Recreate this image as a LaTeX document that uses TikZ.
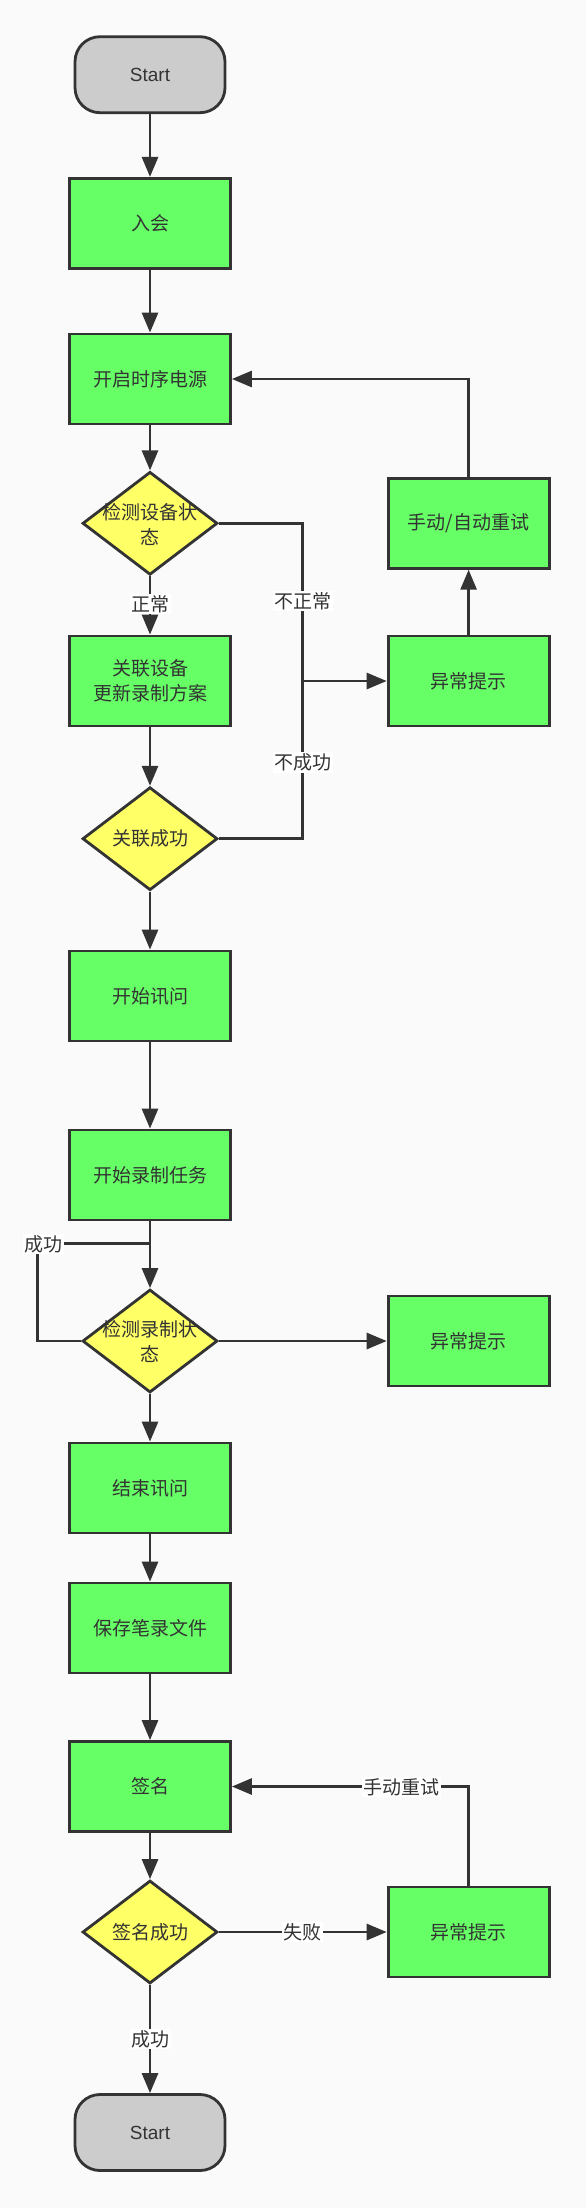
\documentclass[tikz,border=0pt]{standalone}
\usepackage{fontspec}
\setmainfont{Noto Sans CJK SC}
\newfontfamily\latinfont{Liberation Sans}
\usetikzlibrary{arrows.meta,shapes.geometric}
\definecolor{ln}{HTML}{333333}
\definecolor{gr}{HTML}{66FF66}
\definecolor{yl}{HTML}{FFFF66}
\definecolor{gy}{HTML}{CCCCCC}
\definecolor{bg}{HTML}{FAFAFA}
\begin{document}
\begin{tikzpicture}[x=1pt,y=-1pt,
  every node/.style={font=\fontsize{19}{25}\selectfont, text=ln},
  box/.style={draw=ln, line width=2.8pt, fill=gr, minimum width=161pt, minimum height=90pt, inner sep=0pt, align=center},
  term/.style={draw=ln, line width=2.8pt, fill=gy, rounded corners=25pt, minimum width=150pt, minimum height=76pt, inner sep=0pt, font=\latinfont\fontsize{19}{25}\selectfont},
  dia/.style={draw=ln, line width=2.8pt, fill=yl, diamond, minimum width=135pt, minimum height=103pt, inner sep=0pt},
  dtext/.style={align=center, inner sep=0pt},
  lbl/.style={fill=white, inner sep=1.5pt},
  conn/.style={draw=ln, line width=2.8pt},
  arr/.style={conn, -{Triangle[length=20pt,width=16pt]}},
]
\fill[bg] (0,0) rectangle (586,2208);
\useasboundingbox (0,0) rectangle (586,2208);

\node[term] (start) at (150,74.7) {Start};
\node[box] (ruhui) at (150,223.3) {入会};
\node[box] (power) at (150,379) {开启时序电源};
\node[dia] (d1) at (150,523.3) {};
\node[dtext] (d1t) at (150,524) {检测设备状\\态};
\node[box] (retry) at (468.6,523.3) {手动/自动重试};
\node[box] (assoc) at (150,681) {关联设备\\更新录制方案};
\node[box] (warn1) at (468.6,681) {异常提示};
\node[dia] (d2) at (150,838.7) {};
\node[dtext] (d2t) at (d2) {关联成功};
\node[box] (ask) at (150,996) {开始讯问};
\node[box] (rec) at (150,1175) {开始录制任务};
\node[dia] (d3) at (150,1341) {};
\node[dtext] (d3t) at (150,1341) {检测录制状\\态};
\node[box] (warn2) at (468.6,1341) {异常提示};
\node[box] (endask) at (150,1488) {结束讯问};
\node[box] (save) at (150,1628) {保存笔录文件};
\node[box] (sign) at (150,1786.5) {签名};
\node[dia] (d4) at (150,1932) {};
\node[dtext] (d4t) at (d4) {签名成功};
\node[box] (warn3) at (468.6,1932) {异常提示};
\node[term] (end) at (150,2132.5) {Start};

\coordinate (j1) at (302.7,523.3);
\coordinate (j2) at (302.7,838.7);
\coordinate (jm) at (302.7,681);
\coordinate (c1) at (37.4,1341);
\coordinate (c2) at (37.4,1243.3);
\coordinate (c3) at (150,1243.3);

\draw[arr] (start) -- (ruhui);
\draw[arr] (ruhui) -- (power);
\draw[arr] (power) -- (d1);
\draw[arr] (d1) -- (assoc);
\draw[conn] (d1.east) -- (j1) -- (jm);
\draw[conn] (d2.east) -- (j2) -- (jm);
\draw[arr] (jm) -- (warn1.west);
\draw[arr] (warn1) -- (retry);
\draw[arr] (retry.north) |- (power.east);
\draw[arr] (assoc) -- (d2);
\draw[arr] (d2) -- (ask);
\draw[arr] (ask) -- (rec);
\draw[arr] (rec) -- (d3);
\draw[conn] (d3.west) -- (c1) -- (c2) -- (c3);
\draw[arr] (d3) -- (warn2);
\draw[arr] (d3) -- (endask);
\draw[arr] (endask) -- (save);
\draw[arr] (save) -- (sign);
\draw[arr] (sign) -- (d4);
\draw[arr] (d4) -- (warn3);
\draw[arr] (warn3.north) |- (sign.east);
\draw[arr] (d4) -- (end);

\node[lbl] (l0) at (150,604) {正常};
\node[lbl] (l1) at (302.7,601) {不正常};
\node[lbl] (l2) at (302.7,762.7) {不成功};
\node[lbl] (l3) at (43,1244) {成功};
\node[lbl] (l4) at (302,1932) {失败};
\node[lbl] (l5) at (401.7,1787) {手动重试};
\node[lbl] (l6) at (150,2039) {成功};
\end{tikzpicture}
\end{document}
